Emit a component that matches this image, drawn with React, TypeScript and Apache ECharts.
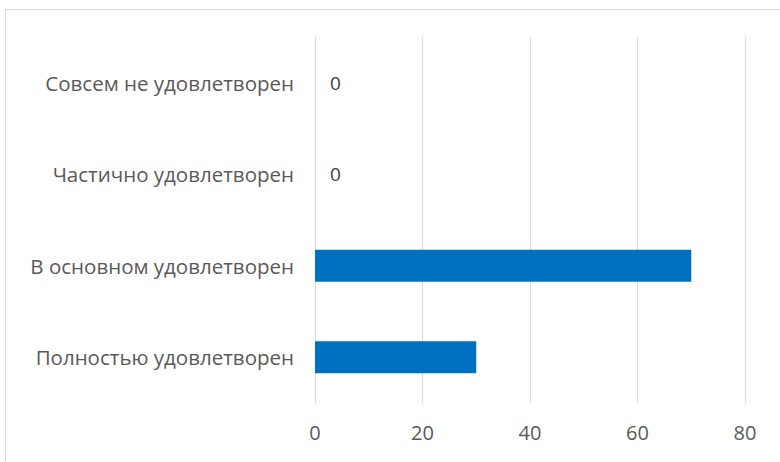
import React, { useEffect, useRef } from "react";
import * as echarts from "echarts";

const categories = [
  "Совсем не удовлетворен",
  "Частично удовлетворен",
  "В основном удовлетворен",
  "Полностью удовлетворен",
];
const values = [0, 0, 70, 30];
const xTicks = [0, 20, 40, 60, 80];

const FONT = "'Open Sans', 'Noto Sans', sans-serif";
const TEXT = "#595959";

export default function App() {
  const ref = useRef<HTMLDivElement>(null);
  useEffect(() => {
    document.body.style.margin = "0";
    const chart = echarts.init(ref.current!, undefined, { renderer: "svg" });
    chart.setOption({
      animation: false,
      backgroundColor: "transparent",
      grid: { left: 315, right: 35, top: 37, bottom: 59, containLabel: false },
      xAxis: {
        type: "value",
        min: xTicks[0],
        max: xTicks[xTicks.length - 1],
        interval: xTicks[1] - xTicks[0],
        axisLine: { show: false },
        axisTick: { show: false },
        splitLine: { show: true, lineStyle: { color: "#d9d9d9", width: 1 } },
        axisLabel: { color: TEXT, fontSize: 20, fontFamily: FONT, margin: 19 },
      },
      yAxis: {
        type: "category",
        data: categories,
        inverse: true,
        axisLine: { show: false },
        axisTick: { show: false },
        splitLine: { show: false },
        axisLabel: { color: TEXT, fontSize: 20.5, fontFamily: FONT, margin: 21 },
      },
      series: [
        {
          type: "bar",
          data: values.map((v) => ({
            value: v,
            label: { show: v === 0 },
          })),
          barWidth: "35%",
          itemStyle: { color: "#0070c0" },
          label: {
            position: "right",
            distance: 15,
            color: "#404040",
            fontSize: 19,
            fontFamily: FONT,
          },
        },
      ],
    });
    return () => chart.dispose();
  }, []);
  return (
    <div style={{ position: "fixed", left: 0, top: 0, width: 780, height: 462, background: "#fff", overflow: "hidden" }}>
      <div
        style={{
          position: "absolute",
          left: 5,
          top: 9,
          width: 820,
          height: 520,
          border: "1px solid #d9d9d9",
          boxSizing: "border-box",
        }}
      />
      <div ref={ref} style={{ position: "absolute", left: 0, top: 0, width: 780, height: 462 }} />
    </div>
  );
}
